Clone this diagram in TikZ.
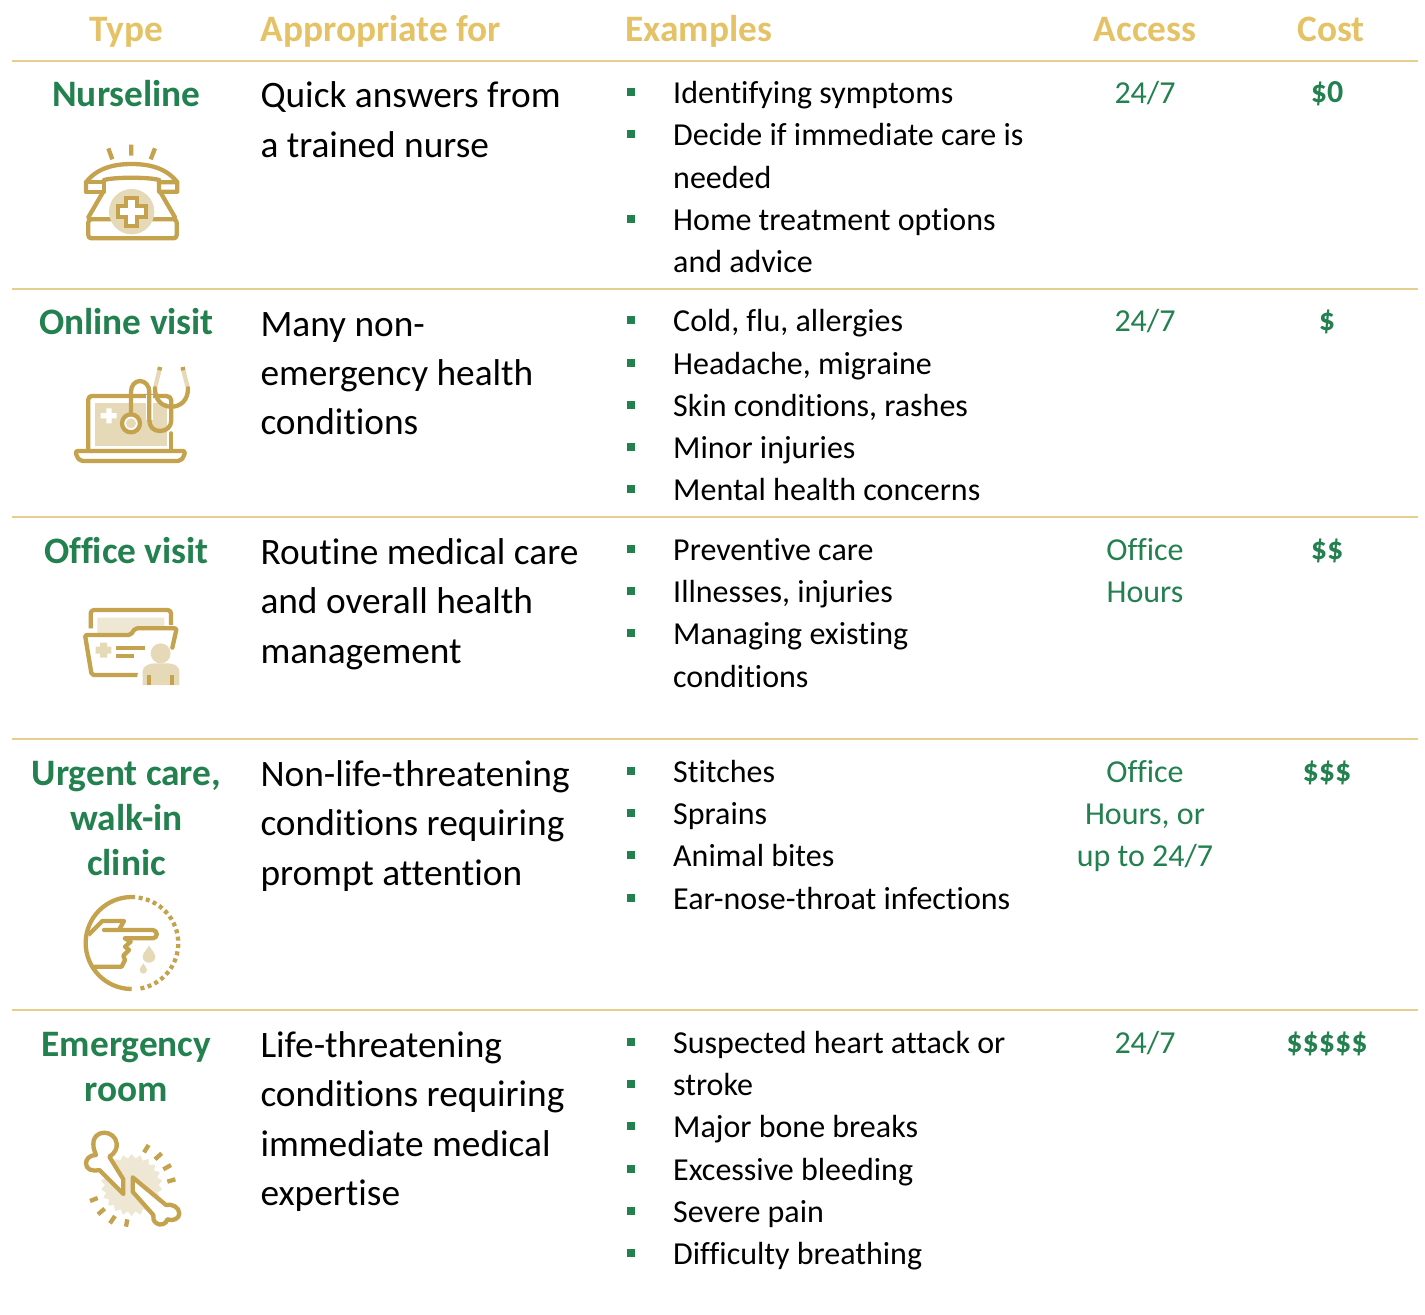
\documentclass[tikz,border=0pt]{standalone}
\usepackage{fontspec}
\setmainfont[Ligatures={NoCommon}]{Carlito}
\usetikzlibrary{shapes.geometric,shapes.misc}
\definecolor{hdr}{HTML}{E5C266}
\definecolor{grn}{HTML}{23804F}
\definecolor{gld}{HTML}{C4A24E}
\definecolor{lgt}{HTML}{E5D9B8}
\definecolor{lgb}{HTML}{EEE7D3}
\definecolor{rule}{HTML}{E6CF8E}
\tikzset{
 hd/.style={anchor=base,inner sep=0pt,text=hdr,font=\fontsize{37.33}{37.33}\selectfont\bfseries},
 ty/.style={anchor=base,inner sep=0pt,text=grn,font=\fontsize{37.33}{37.33}\selectfont\bfseries},
 ap/.style={anchor=base west,inner sep=0pt,text=black,font=\fontsize{37.33}{37.33}\selectfont},
 ex/.style={anchor=base west,inner sep=0pt,text=black,font=\fontsize{32}{32}\selectfont},
 ac/.style={anchor=base,inner sep=0pt,text=grn,font=\fontsize{32}{32}\selectfont},
 co/.style={anchor=base,inner sep=0pt,text=grn,font=\fontsize{32}{32}\selectfont\bfseries},
 rowline/.style={draw=rule,line width=1.2pt},
 bul/.style={fill=grn,draw=none},
 ic/.style={draw=gld,line width=4.3pt,line join=round,line cap=round},
 icsq/.style={draw=gld,line width=4.3pt,line join=miter,line cap=butt},
 icl/.style={draw=lgt,line width=4.3pt,line cap=butt},
}
\begin{document}
\begin{tikzpicture}[x=1pt,y=-1pt]
\useasboundingbox (0,0) rectangle (1425,1315);
% rules
\foreach \y/\n in {61/a,289/b,517/c,739/d,1010/e}{
 \coordinate (l\n) at (12,\y); \coordinate (r\n) at (1418,\y);
 \draw[rowline] (l\n) -- (r\n);
}
% headers
\node[hd,anchor=base] (h1) at (126,41.5) {Type};
\node[hd,anchor=base west] (h2) at (260.5,41.5) {Appropriate for};
\node[hd,anchor=base west] (h3) at (625.5,41.5) {Examples};
\node[hd] (h4) at (1145,41.5) {Access};
\node[hd] (h5) at (1331,41.5) {Cost};
% type
\foreach \i/\y/\t in {1/106/Nurseline,2/334.5/Online visit,3/563/Office visit,4/785/{Urgent care,},5/830/walk-in,6/875/clinic,7/1056/Emergency,8/1101/room}
 \node[ty] (ty\i) at (126.5,\y) {\t};
% appropriate
\foreach \i/\y/\t in {1/107.5/Quick answers from,2/157.5/a trained nurse,
 3/336.5/Many non-,4/385.5/emergency health,5/434.5/conditions,
 6/564.5/Routine medical care,7/613.5/and overall health,8/663.5/management,
 9/786.5/Non-life-threatening,10/835.5/conditions requiring,11/885.5/prompt attention,
 12/1057.5/Life-threatening,13/1106.5/conditions requiring,14/1156.5/immediate medical,15/1205.5/expertise}
 \node[ap] (ap\i) at (260.3,\y) {\t};
% examples
\foreach \i/\y/\t in {1/103/Identifying symptoms,2/145/Decide if immediate care is,3/188/needed,4/230/Home treatment options,5/272/and advice,
 6/331/{Cold, flu, allergies},7/374/{Headache, migraine},8/416/{Skin conditions, rashes},9/458/Minor injuries,10/500/Mental health concerns,
 11/560/Preventive care,12/602/{Illnesses, injuries},13/644/Managing existing,14/687/conditions,
 15/782/Stitches,16/824/Sprains,17/866/Animal bites,18/909/Ear-nose-throat infections,
 19/1053/Suspected heart attack or,20/1095/stroke,21/1137/Major bone breaks,22/1180/Excessive bleeding,23/1222/Severe pain,24/1264/Difficulty breathing}
 \node[ex] (ex\i) at (673,\y) {\t};
% bullets
\foreach \y in {92,134,219,320,363,405,447,489,549,591,633,771,813,855,898,1042,1084,1126,1169,1211,1253}
 \fill[bul] (627,\y-4) rectangle (635,\y+4);
% access
\foreach \i/\y/\t in {1/103/24\slash 7,2/331/24\slash 7,3/560/Office,4/602/Hours,5/782/Office,6/824/{Hours, or},7/866/up to 24\slash 7,8/1053/24\slash 7}
 \node[ac] (ac\i) at (1145,\y) {\t};
% cost
\foreach \i/\y/\t in {1/102/\$0,2/330/\$,3/559/\$\$,4/781/\$\$\$,5/1052/\$\$\$\$\$}
 \node[co] (co\i) at (1327,\y) {\t};
%
% phone icon
\begin{scope}[shift={(60,130)},scale=1/3]
 \draw[ic,line cap=butt] (145,55)--(157,88) (214,44)--(214,77) (285,55)--(272,88);
 \draw[ic] (128,188)--(85,262) (302,188)--(345,262);
 \draw[ic] (78,185) -- (78,157) .. controls (110,115) and (160,102) .. (215,102) .. controls (270,102) and (320,115) .. (352,157) -- (352,185) -- (297,185) -- (297,157) -- (352,157) (297,150) .. controls (270,141) and (160,141) .. (133,150);
 \draw[ic] (78,157) -- (133,157) -- (133,185) -- (78,185) (297,150)--(297,157) (133,150)--(133,157);
 \draw[draw=gld!70,line width=2pt] (95,268)--(340,268);
 \draw[ic,rounded corners=3pt] (85,268) rectangle (350,325);
 \fill[lgt] (215,245) circle (68);
 \draw[icsq,fill=white] (198,203)--(232,203)--(232,228)--(257,228)--(257,262)--(232,262)--(232,287)--(198,287)--(198,262)--(173,262)--(173,228)--(198,228)--cycle;
\end{scope}
% laptop icon
\begin{scope}[shift={(60,355)},scale=1/3]
 \fill[lgt] (105,143) rectangle (322,272);
 \fill[white] (139,160) rectangle (155,205) (122,174) rectangle (170,190);
 \draw[ic] (85,285)--(85,133) arc (180:270:10) -- (320,123) arc (270:360:14) -- (334,150);
 \draw[ic] (334,235)--(334,285);
 \draw[ic,rounded corners=2pt] (47,288)--(375,288)--(372,305)--(360,318)--(62,318)--(50,305)--cycle;
 \draw[icl] (300,38)--(285,100) (368,38)--(384,100);
 \draw[ic,line cap=butt] (300,36)--(298,46) (368,36)--(370,46);
 \draw[draw=white,line width=7pt] (268,120)--(268,195) (334,165)--(334,195);
 \draw[ic] (285,100) .. controls (285,135) and (305,155) .. (334,155) .. controls (363,155) and (384,135) .. (384,100);
 \draw[ic] (334,155) -- (334,195) .. controls (334,215) and (320,228) .. (300,228) .. controls (280,228) and (268,215) .. (268,195) -- (268,110) .. controls (268,92) and (255,78) .. (240,78) .. controls (225,78) and (213,92) .. (213,110) -- (213,178);
 \draw[ic,fill=white] (213,205) circle (27);
 \fill[lgt] (213,205) circle (15);
\end{scope}
% folder icon
\begin{scope}[shift={(60,595)},scale=1/3]
 \fill[lgb] (112,68) rectangle (313,100) (112,100) rectangle (215,118);
 \draw[ic,line cap=butt] (92,100)--(92,55) arc (180:270:10) -- (323,45) arc (270:360:10) -- (333,90);
 \draw[ic,rounded corners=2pt] (232,240)--(95,240)--(75,120)--(212,120)--(225,100)--(350,100)--(337,158);
 \fill[lgt] (120,143) rectangle (141,188) (107,155) rectangle (154,176);
 \draw[ic,line cap=butt] (168,160)--(255,160) (168,182)--(222,182);
 \fill[white] (232,240) -- (255,200) -- (370,200) -- (370,280) -- (232,280) -- cycle;
 \fill[lgt] (302,175) circle (30);
 \fill[lgt] (248,270) -- (248,228) .. controls (248,212) and (270,205) .. (285,205) -- (322,205) .. controls (340,205) and (358,212) .. (358,228) -- (358,270) -- cycle;
 \draw[ic,line cap=butt] (268,240)--(268,270) (335,240)--(335,270);
\end{scope}
% hand icon
\begin{scope}[shift={(60,885)},scale=1/3]
 \draw[ic,line cap=butt] (215,312) arc (90:270:138) -- (225,36);
 \draw[ic,line cap=butt,dash pattern=on 4pt off 3.4pt] (236,38) arc (-82:82:138);
 \draw[ic,line cap=butt] (85,150)--(127,108)--(192,108)--(178,133);
 \draw[ic] (132,135)--(278,135) arc (-90:90:12.5) -- (195,160);
 \draw[ic] (195,160)--(212,170)--(195,185)--(207,195)--(190,212)--(195,225)--(185,245)--(105,245);
 \fill[lgt] (267,182) .. controls (275,195) and (286,205) .. (286,215) .. controls (286,226) and (277,233) .. (267,233) .. controls (257,233) and (248,226) .. (248,215) .. controls (248,205) and (259,195) .. (267,182) -- cycle;
 \fill[lgt] (250,235) .. controls (254,243) and (261,248) .. (261,254) .. controls (261,261) and (256,266) .. (250,266) .. controls (244,266) and (239,261) .. (239,254) .. controls (239,248) and (246,243) .. (250,235) -- cycle;
\end{scope}
% bone icon
\begin{scope}[shift={(60,1120)},scale=1/3]
 \node[star,star points=22,star point ratio=1.16,fill=lgb,draw=none,minimum size=62pt,inner sep=0pt] (burst) at (215,195) {};
 \draw[ic,fill=white] (190,222) -- (190,178) -- (148,110) .. controls (165,100) and (172,85) .. (170,70) .. controls (168,50) and (150,38) .. (132,38) .. controls (112,38) and (98,55) .. (100,72) .. controls (100,85) and (104,95) .. (108,105) .. controls (88,105) and (78,118) .. (78,130) .. controls (78,148) and (95,155) .. (118,150) -- cycle;
 \draw[ic,fill=white] (218,172) -- (318,255) .. controls (335,250) and (358,262) .. (358,280) .. controls (358,295) and (340,305) .. (322,298) .. controls (320,312) and (300,318) .. (290,310) .. controls (280,303) and (278,295) .. (280,285) -- (218,215) -- cycle;
 \draw[ic,line cap=butt] (252,97)--(266,75) (285,118)--(305,100) (310,148)--(333,135) (322,185)--(346,178) (90,243)--(113,234) (114,283)--(134,266) (150,310)--(165,288) (198,320)--(202,298);
\end{scope}
\end{tikzpicture}
\end{document}
